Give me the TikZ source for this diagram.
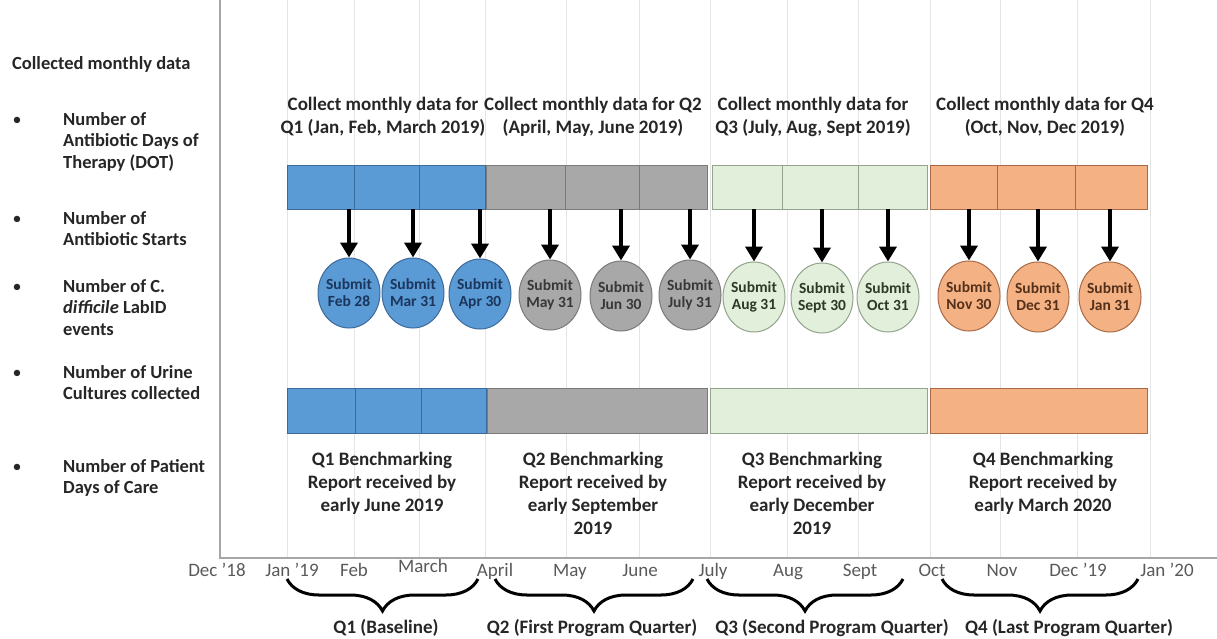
\documentclass[tikz,border=0pt]{standalone}
\usepackage{fontspec}
\setmainfont{Carlito}
\usetikzlibrary{arrows.meta,positioning,fit,shapes.geometric,decorations.pathreplacing}
\definecolor{qblue}{HTML}{5B9BD5}
\definecolor{qblueline}{HTML}{3C6A9A}
\definecolor{qbluetext}{HTML}{1B355C}
\definecolor{qgray}{HTML}{A8A8A8}
\definecolor{qgrayline}{HTML}{7A7A7A}
\definecolor{qgraytext}{HTML}{383838}
\definecolor{qgreen}{HTML}{E2EFDA}
\definecolor{qgreenline}{HTML}{93A38C}
\definecolor{qgreentext}{HTML}{2E3A28}
\definecolor{qorange}{HTML}{F4B183}
\definecolor{qorangeline}{HTML}{A86A45}
\definecolor{qorangetext}{HTML}{55301A}
\definecolor{gridgray}{HTML}{E4E4E4}
\definecolor{axisgray}{HTML}{A6A6A6}
\definecolor{labelgray}{HTML}{595959}
\definecolor{ink}{HTML}{262626}
\tikzset{
  cell/.style={draw,line width=0.9pt,inner sep=0pt},
  q1cell/.style={cell,fill=qblue,draw=qblueline},
  q2cell/.style={cell,fill=qgray,draw=qgrayline},
  q3cell/.style={cell,fill=qgreen,draw=qgreenline},
  q4cell/.style={cell,fill=qorange,draw=qorangeline},
  sub/.style={ellipse,draw,line width=1pt,minimum width=62pt,minimum height=70pt,inner sep=0pt},
  subtext/.style={font=\fontsize{15.5}{17}\selectfont\bfseries,align=center,inner sep=0pt},
  q1sub/.style={sub,fill=qblue,draw=qblueline,label={[subtext,text=qbluetext]center:{#1}}},
  q2sub/.style={sub,fill=qgray,draw=qgrayline,label={[subtext,text=qgraytext]center:{#1}}},
  q3sub/.style={sub,fill=qgreen,draw=qgreenline,label={[subtext,text=qgreentext]center:{#1}}},
  q4sub/.style={sub,fill=qorange,draw=qorangeline,label={[subtext,text=qorangetext]center:{#1}}},
  arr/.style={-{Triangle[width=17pt,length=15pt]},line width=4pt,black},
  head/.style={font=\fontsize{19}{23}\selectfont\bfseries,align=center,text=ink,inner sep=0pt},
  side/.style={font=\fontsize{18.5}{21.5}\selectfont\bfseries,align=left,text=ink,inner sep=0pt},
  bul/.style={font=\fontsize{18}{20}\selectfont,text=ink,inner sep=0pt},
  month/.style={font=\fontsize{19}{23}\selectfont,text=labelgray,inner sep=0pt,anchor=base},
  qlabel/.style={font=\fontsize{19}{23}\selectfont\bfseries,text=ink,inner sep=0pt,anchor=base},
  brace/.style={decorate,decoration={brace,mirror,amplitude=32pt},line width=3pt},
  grid/.style={gridgray,line width=1pt},
  axis/.style={axisgray,line width=2pt}
}
\begin{document}
\begin{tikzpicture}[x=1pt,y=-1pt]
  \useasboundingbox (0,0) rectangle (1217,639);
  % month grid and axes
  \draw[grid] (287,0)--(287,558) (354,0)--(354,558) (419,0)--(419,558)
    (485,0)--(485,558) (566,0)--(566,558) (639,0)--(639,558)
    (710,0)--(710,558) (787,0)--(787,558) (858,0)--(858,558)
    (930,0)--(930,558) (1000,0)--(1000,558) (1077,0)--(1077,558)
    (1150,0)--(1150,558);
  \draw[axis] (220,0)--(220,558)--(1217,558);

  % collected data list
  \node[side,anchor=west] (lhead) at (12,64) {Collected monthly data};
  \node[bul] (b1) at (17,121) {\textbullet};
  \node[side,anchor=north west] (l1) at (63,112) {Number of\\Antibiotic Days of\\Therapy (DOT)};
  \node[bul] (b2) at (17,220) {\textbullet};
  \node[side,anchor=north west] (l2) at (63,211) {Number of\\Antibiotic Starts};
  \node[bul] (b3) at (17,288) {\textbullet};
  \node[side,anchor=north west] (l3) at (63,279) {Number of C.\\\textit{difficile} LabID\\events};
  \node[bul] (b4) at (17,374) {\textbullet};
  \node[side,anchor=north west] (l4) at (63,365) {Number of Urine\\Cultures collected};
  \node[bul] (b5) at (17,468) {\textbullet};
  \node[side,anchor=north west] (l5) at (63,459) {Number of Patient\\Days of Care};

  % collection headers
  \node[head,anchor=north] (h1) at (383,97) {Collect monthly data for\\Q1 (Jan, Feb, March 2019)};
  \node[head,anchor=north] (h2) at (593,97) {Collect monthly data for Q2\\(April, May, June 2019)};
  \node[head,anchor=north] (h3) at (813,97) {Collect monthly data for\\Q3 (July, Aug, Sept 2019)};
  \node[head,anchor=north] (h4) at (1045,97) {Collect monthly data for Q4\\(Oct, Nov, Dec 2019)};

  % monthly cells
  \node[q1cell,fit={(287,165) (354,209)}] (t1) {};
  \node[q1cell,fit={(354,165) (419,209)}] (t2) {};
  \node[q1cell,fit={(419,165) (485,209)}] (t3) {};
  \node[q2cell,fit={(486,165) (565,209)}] (t4) {};
  \node[q2cell,fit={(565,165) (639,209)}] (t5) {};
  \node[q2cell,fit={(639,165) (707,209)}] (t6) {};
  \node[q3cell,fit={(712,165) (782,209)}] (t7) {};
  \node[q3cell,fit={(782,165) (858,209)}] (t8) {};
  \node[q3cell,fit={(858,165) (927,209)}] (t9) {};
  \node[q4cell,fit={(930,165) (997,209)}] (t10) {};
  \node[q4cell,fit={(997,165) (1075,209)}] (t11) {};
  \node[q4cell,fit={(1075,165) (1147,209)}] (t12) {};

  % submissions
  \node[q1sub={Submit\\Feb 28}] (c1) at (349,293) {};
  \node[q1sub={Submit\\Mar 31}] (c2) at (413,293) {};
  \node[q1sub={Submit\\Apr 30}] (c3) at (480,294) {};
  \node[q2sub={Submit\\May 31}] (c4) at (550,295) {};
  \node[q2sub={Submit\\Jun 30}] (c5) at (621,296) {};
  \node[q2sub={Submit\\July 31}] (c6) at (690,295) {};
  \node[q3sub={Submit\\Aug 31}] (c7) at (754,297) {};
  \node[q3sub={Submit\\Sept 30}] (c8) at (822,298) {};
  \node[q3sub={Submit\\Oct 31}] (c9) at (888,297) {};
  \node[q4sub={Submit\\Nov 30}] (c10) at (969,296) {};
  \node[q4sub={Submit\\Dec 31}] (c11) at (1038,297) {};
  \node[q4sub={Submit\\Jan 31}] (c12) at (1110,297) {};
  \draw[arr] (c1 |- t1.south)--(c1.north);
  \draw[arr] (c2 |- t2.south)--(c2.north);
  \draw[arr] (c3 |- t3.south)--(c3.north);
  \draw[arr] (c4 |- t4.south)--(c4.north);
  \draw[arr] (c5 |- t5.south)--(c5.north);
  \draw[arr] (c6 |- t6.south)--(c6.north);
  \draw[arr] (c7 |- t7.south)--(c7.north);
  \draw[arr] (c8 |- t8.south)--(c8.north);
  \draw[arr] (c9 |- t9.south)--(c9.north);
  \draw[arr] (c10 |- t10.south)--(c10.north);
  \draw[arr] (c11 |- t11.south)--(c11.north);
  \draw[arr] (c12 |- t12.south)--(c12.north);

  % quarter report bars
  \node[q1cell,fit={(287,388) (355,433)}] (r1a) {};
  \node[q1cell,fit={(355,388) (421,433)}] (r1b) {};
  \node[q1cell,fit={(421,388) (486,433)}] (r1c) {};
  \node[q2cell,fit={(487,388) (707,433)}] (r2) {};
  \node[q3cell,fit={(710,388) (927,433)}] (r3) {};
  \node[q4cell,fit={(930,388) (1147,433)}] (r4) {};
  \node[head,anchor=north] (p1) at (382,452) {Q1 Benchmarking\\Report received by\\early June 2019};
  \node[head,anchor=north] (p2) at (593,452) {Q2 Benchmarking\\Report received by\\early September\\2019};
  \node[head,anchor=north] (p3) at (812,452) {Q3 Benchmarking\\Report received by\\early December\\2019};
  \node[head,anchor=north] (p4) at (1043,452) {Q4 Benchmarking\\Report received by\\early March 2020};

  % month labels
  \node[month] (m0) at (217,576) {Dec ’18};
  \node[month] (m1) at (292,576) {Jan ’19};
  \node[month] (m2) at (354,576) {Feb};
  \node[month] (m3) at (423,572) {March};
  \node[month] (m4) at (495,576) {April};
  \node[month] (m5) at (570,576) {May};
  \node[month] (m6) at (640,576) {June};
  \node[month] (m7) at (713,576) {July};
  \node[month] (m8) at (788,576) {Aug};
  \node[month] (m9) at (860,576) {Sept};
  \node[month] (m10) at (932,576) {Oct};
  \node[month] (m11) at (1002,576) {Nov};
  \node[month] (m12) at (1078,576) {Dec ’19};
  \node[month] (m13) at (1167,576) {Jan ’20};

  % program quarters
  \draw[brace] (287,579)--(478,579);
  \draw[brace] (495,579)--(693,579);
  \draw[brace] (707,579)--(903,579);
  \draw[brace] (942,579)--(1138,579);
  \node[qlabel] (q1) at (386,633) {Q1 (Baseline)};
  \node[qlabel] (q2) at (592,633) {Q2 (First Program Quarter)};
  \node[qlabel] (q3) at (832,633) {Q3 (Second Program Quarter)};
  \node[qlabel] (q4) at (1069,633) {Q4 (Last Program Quarter)};
\end{tikzpicture}
\end{document}
